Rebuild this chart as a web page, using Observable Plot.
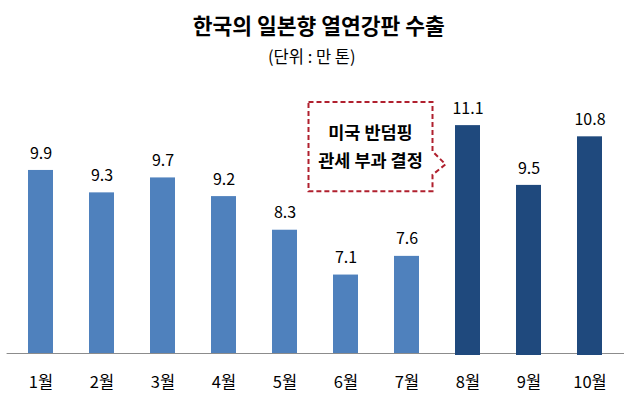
<!DOCTYPE html>
<html><head><meta charset="utf-8">
<script src="https://cdn.jsdelivr.net/npm/d3@7"></script>
<script src="https://cdn.jsdelivr.net/npm/@observablehq/plot@0.6"></script>
<style>
html,body{margin:0;padding:0;background:#fff;}
#chart{width:636px;height:395px;}
</style></head>
<body><div id="chart"></div>
<script>
const title = "한국의 일본향 열연강판 수출";
const subtitle = "(단위 : 만 톤)";
const months = ["1월","2월","3월","4월","5월","6월","7월","8월","9월","10월"];
const values = [9.9, 9.3, 9.7, 9.2, 8.3, 7.1, 7.6, 11.1, 9.5, 10.8];
const groups = ["before","before","before","before","before","before","before","after","after","after"];
const calloutLines = ["미국 반덤핑", "관세 부과 결정"];
const yDomain = [5, 12];

const data = months.map((m, i) => ({month: m, value: values[i], group: groups[i]}));
const font = "'Noto Sans CJK KR', 'Noto Sans', sans-serif";

const plot = Plot.plot({
  width: 636, height: 395,
  marginTop: 91.5, marginBottom: 42, marginLeft: 6.6, marginRight: 12,
  style: {fontFamily: font, background: "#fff"},
  x: {domain: months, paddingInner: 0.585, paddingOuter: 0.29, axis: null},
  y: {domain: yDomain, axis: null},
  marks: [
    Plot.barY(data.filter(d => d.group === "before"), {x: "month", y1: yDomain[0], y2: "value", fill: "#4f81bd"}),
    Plot.ruleY([yDomain[0]], {stroke: "#8c8c8c", strokeWidth: 1}),
    Plot.barY(data.filter(d => d.group === "after"), {x: "month", y1: yDomain[0], y2: "value", fill: "#1f497d", insetBottom: -2}),
    Plot.text(data, {x: "month", y: "value", text: d => d.value.toFixed(1), dy: -17, lineAnchor: "middle", fontSize: 16, fill: "#000"}),
    Plot.text(data, {x: "month", text: "month", frameAnchor: "bottom", dy: 29, lineAnchor: "middle", fontSize: 16.5, fill: "#000"}),
    Plot.text([title], {frameAnchor: "top", dy: -65, lineAnchor: "middle", fontSize: 21.5, fontWeight: "bold", fill: "#000", dx: 3}),
    Plot.text([subtitle], {frameAnchor: "top", dy: -34, lineAnchor: "middle", fontSize: 16.5, fill: "#000", dx: -4})
  ]
});
document.getElementById("chart").appendChild(plot);

// Callout annotation positioned via scales
(function () {
  const xs = plot.scale("x"), ys = plot.scale("y");
  const cx = m => xs.apply(m) + xs.bandwidth / 2;
  const bLeft = cx("6월") - 37, bRight = cx("8월") - 35;
  const bTop = ys.apply(11.72), bBottom = ys.apply(9.33);
  const aTop = ys.apply(10.4), aTip = ys.apply(10.05), aBot = ys.apply(9.77);
  const tipX = bRight + 13;
  const svg = d3.select(plot);
  svg.append("path")
    .attr("d", `M${bLeft},${bTop}H${bRight}V${aTop}L${tipX},${aTip}L${bRight},${aBot}V${bBottom}H${bLeft}Z`)
    .attr("fill", "#fff").attr("stroke", "#b0202e").attr("stroke-width", 2)
    .attr("stroke-dasharray", "5,3");
  const midX = (bLeft + bRight) / 2;
  calloutLines.forEach((t, i) => {
    svg.append("text").attr("x", midX).attr("y", (bTop + 32) + i * 28)
      .attr("text-anchor", "middle").attr("dominant-baseline", "middle")
      .attr("font-family", font).attr("font-size", 17.5).attr("font-weight", "bold")
      .attr("fill", "#000").text(t);
  });
})();
</script></body></html>
